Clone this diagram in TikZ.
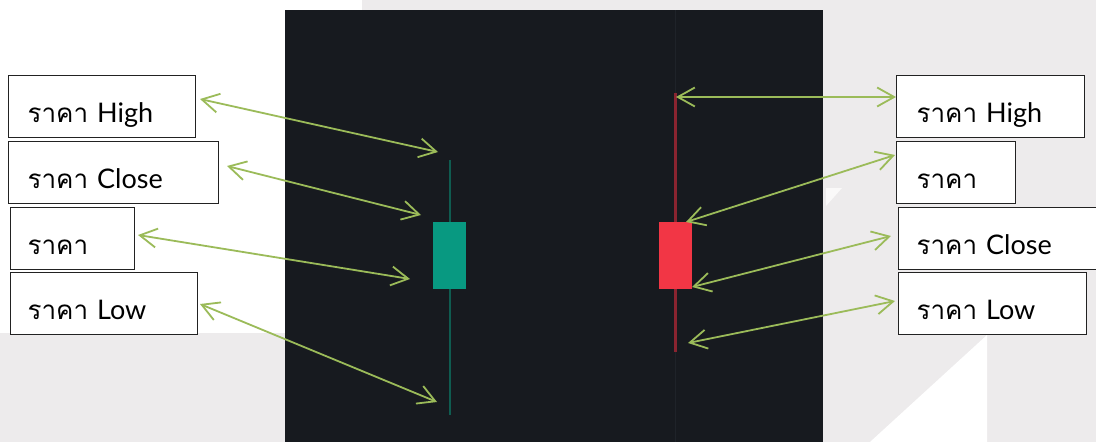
\documentclass[tikz,border=0pt]{standalone}
\usepackage{fontspec}
\setmainfont{Lato}
\newfontfamily\thaifont[Script=Thai]{Loma}
\usetikzlibrary{arrows.meta}
\definecolor{bggrey}{HTML}{EDEBEC}
\definecolor{panel}{HTML}{171A1F}
\definecolor{gridc}{HTML}{1F2329}
\definecolor{argreen}{HTML}{9BBB59}
\definecolor{upbody}{HTML}{089981}
\definecolor{upwick}{HTML}{0F5C50}
\definecolor{dnbody}{HTML}{F23645}
\definecolor{dnwick}{HTML}{8A2430}
\definecolor{boxc}{HTML}{222222}
\tikzset{
  lbl/.style={draw=boxc, line width=1.3pt, fill=white, inner xsep=0pt, inner ysep=0pt,
    minimum height=62pt, text height=47pt, text depth=15pt, anchor=north west,
    align=left, text width=#1, font=\fontsize{27}{30}\selectfont},
  arr/.style={draw=argreen, line width=1.8pt,
    {Straight Barb[length=17pt,width=19pt]}-{Straight Barb[length=17pt,width=19pt]}},
  wickup/.style={draw=upwick, line width=2pt},
  wickdn/.style={draw=dnwick, line width=2.2pt}
}
\newcommand{\rk}{{\thaifont\fontsize{26}{30}\selectfont ราคา}}
\begin{document}
\begin{tikzpicture}[x=1pt,y=-1pt]
\useasboundingbox (0,0) rectangle (1096,442);
% background
\fill[bggrey] (0,0) rectangle (1096,442);
\fill[white] (0,0) rectangle (362,333);
\fill[white] (987,335) -- (987,442) -- (870,442) -- cycle;
\fill[white!70!bggrey] (826,188) -- (842,188) -- (826,206) -- cycle;
% chart panel
\fill[panel] (285,10) rectangle (823,442);
\draw[gridc, line width=1.5pt] (675.5,10) -- (675.5,442);
% green candle
\coordinate (gwt) at (449.5,160);
\coordinate (gwb) at (449.5,415);
\draw[wickup] (gwt) -- (gwb);
\fill[upbody] (433,222) rectangle (466,289);
% red candle
\coordinate (rwt) at (675.5,93);
\coordinate (rwb) at (675.5,352);
\draw[wickdn] (rwt) -- (rwb);
\fill[dnbody] (659,222) rectangle (692,289);
% left boxes
\node[lbl=187pt] (lhigh) at (8,75) {\hspace*{19pt}\rk\ High};
\node[lbl=210pt] (lclose) at (8,141) {\hspace*{19pt}\rk\ Close};
\node[lbl=124pt] (lprice) at (10,207) {\hspace*{17pt}\rk};
\node[lbl=187pt] (llow) at (10,272) {\hspace*{17pt}\rk\ Low};
% right boxes
\node[lbl=188pt] (rhigh) at (896,75) {\hspace*{20pt}\rk\ High};
\node[lbl=119pt] (rprice) at (896,141) {\hspace*{20pt}\rk};
\node[lbl=210pt] (rclose) at (898,207) {\hspace*{18pt}\rk\ Close};
\node[lbl=188pt] (rlow) at (898,272) {\hspace*{18pt}\rk\ Low};
% arrow ends
\coordinate (a1s) at (200,99);   \coordinate (a1e) at (438,152);
\coordinate (a2s) at (227,166);  \coordinate (a2e) at (421,215);
\coordinate (a3s) at (138,235);  \coordinate (a3e) at (410,279);
\coordinate (a4s) at (200,304);  \coordinate (a4e) at (437,402);
\coordinate (b1s) at (896,97);   \coordinate (b1e) at (676,97);
\coordinate (b2s) at (895,155);  \coordinate (b2e) at (686,222);
\coordinate (b3s) at (891,236);  \coordinate (b3e) at (692,287);
\coordinate (b4s) at (895,301);  \coordinate (b4e) at (688,343);
\draw[arr] (a1s) -- (a1e);
\draw[arr] (a2s) -- (a2e);
\draw[arr] (a3s) -- (a3e);
\draw[arr] (a4s) -- (a4e);
\draw[arr] (b1s) -- (b1e);
\draw[arr] (b2s) -- (b2e);
\draw[arr] (b3s) -- (b3e);
\draw[arr] (b4s) -- (b4e);
\end{tikzpicture}
\end{document}
